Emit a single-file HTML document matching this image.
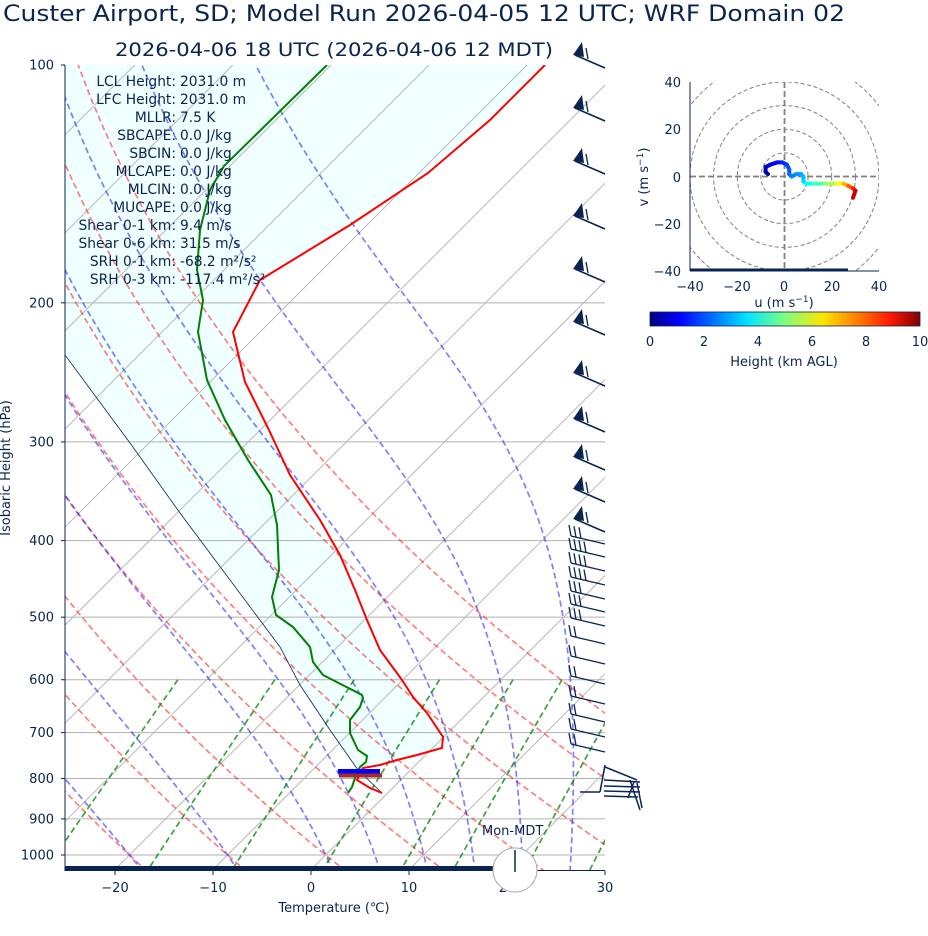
<!DOCTYPE html>
<html><head><meta charset="utf-8">
<style>
html,body{margin:0;padding:0;background:#fff;}
svg{display:block;font-family:"DejaVu Sans","Liberation Sans",sans-serif;}
</style></head>
<body>
<svg id="s" width="928" height="936" viewBox="0 0 928 936" xmlns="http://www.w3.org/2000/svg">
<defs>
<clipPath id="cp"><rect x="65" y="65" width="540" height="805"/></clipPath>
<clipPath id="hc"><rect x="690" y="82" width="189" height="189"/></clipPath>
<linearGradient id="jet" x1="0" x2="1" y1="0" y2="0">
<stop offset="0" stop-color="#00007f"/><stop offset="0.11" stop-color="#0000ff"/>
<stop offset="0.36" stop-color="#00e5ff"/><stop offset="0.5" stop-color="#7fff7f"/>
<stop offset="0.64" stop-color="#ffe500"/><stop offset="0.89" stop-color="#ff1a00"/>
<stop offset="1" stop-color="#7f0000"/></linearGradient>
</defs>
<text x="3" y="21" font-size="22.5" fill="#0a2450" textLength="842" lengthAdjust="spacingAndGlyphs">Custer Airport, SD; Model Run 2026-04-05 12 UTC; WRF Domain 02</text>
<text x="115" y="56" font-size="19" fill="#0a2450" textLength="438" lengthAdjust="spacingAndGlyphs">2026-04-06 18 UTC  (2026-04-06 12 MDT)</text>
<g clip-path="url(#cp)">
<polygon fill="#f0ffff" points="545,65 490,120 428,173 350,225 260,280 233,332 245,382 268,428 290,475 320,520 340,555 355,590 367,620 380,650 402,680 413,697 427,713 443,737 442,748 417,755 397,760 380,765 358,770 330,730 300,685 280,647 230,580 180,513 130,443 65,355 65,65"/>
<g id="grid"></g>
<polyline fill="none" stroke="#0a2450" stroke-width="0.8" points="65,355 130,443 180,513 230,580 280,647 300,685 330,730 358,770 382,793"/>
<polyline fill="none" stroke="#ff0000" stroke-width="2" points="545,65 490,120 428,173 350,225 260,280 233,332 245,382 268,428 290,475 320,520 340,555 355,590 367,620 380,650 402,680 413,697 427,713 443,737 442,748 417,755 397,760 380,765 363,768 357,780 370,788 382,793"/>
<polyline fill="none" stroke="#008000" stroke-width="2" points="327,65 224,166 210,190 200,230 197,270 203,300 198,332 207,380 225,420 248,460 271,495 277,525 279,570 272,597 276,615 293,627 310,647 313,662 323,675 362,695 363,698 360,707 350,720 350,733 358,750 367,756 366,762 360,767 355,778 352,787 348,793"/>
<rect x="338" y="769" width="42" height="4.5" fill="#0000ff"/>
<rect x="339" y="773.5" width="43" height="4" fill="#a52a2a"/>
</g>
<rect x="65" y="866" width="428" height="5" fill="#0a2450"/>
<line x1="65" y1="65" x2="65" y2="871" stroke="#0a2450" stroke-width="1"/>
<line x1="65" y1="870.5" x2="605" y2="870.5" stroke="#0a2450" stroke-width="1"/>
<g font-size="13" fill="#0a2450" text-anchor="end" id="ylab"></g>
<text transform="translate(10,468) rotate(-90)" font-size="13" fill="#0a2450" text-anchor="middle">Isobaric Height (hPa)</text>
<g font-size="13" fill="#0a2450" text-anchor="middle">
<text x="115" y="892">−20</text><text x="213" y="892">−10</text><text x="311" y="892">0</text><text x="409" y="892">10</text><text x="507" y="892">20</text><text x="605" y="892">30</text>
<text x="334" y="912">Temperature (℃)</text></g>
<g stroke="#0a2450"><line x1="115" y1="871" x2="115" y2="875"/><line x1="213" y1="871" x2="213" y2="875"/><line x1="311" y1="871" x2="311" y2="875"/><line x1="409" y1="871" x2="409" y2="875"/><line x1="605" y1="871" x2="605" y2="875"/></g>
<circle cx="515" cy="870" r="22" fill="#fff" stroke="#aaa" stroke-width="1"/>
<line x1="515" y1="850" x2="515" y2="872" stroke="#0a2450" stroke-width="1.5"/>
<text x="482" y="835" font-size="13" fill="#0a2450">Mon-MDT</text>
<g font-size="13.8" fill="#0a2450">
<g text-anchor="end">
<text x="176" y="86">LCL Height:</text><text x="176" y="104">LFC Height:</text><text x="176" y="122">MLLR:</text><text x="176" y="140">SBCAPE:</text><text x="176" y="158">SBCIN:</text><text x="176" y="176">MLCAPE:</text><text x="176" y="194">MLCIN:</text><text x="176" y="212">MUCAPE:</text><text x="176" y="230">Shear 0-1 km:</text><text x="176" y="248">Shear 0-6 km:</text><text x="176" y="266">SRH 0-1 km:</text><text x="176" y="284">SRH 0-3 km:</text></g>
<g>
<text x="180" y="86">2031.0 m</text><text x="180" y="104">2031.0 m</text><text x="180" y="122">7.5 K</text><text x="180" y="140">0.0 J/kg</text><text x="180" y="158">0.0 J/kg</text><text x="180" y="176">0.0 J/kg</text><text x="180" y="194">0.0 J/kg</text><text x="180" y="212">0.0 J/kg</text><text x="180" y="230">9.4 m/s</text><text x="180" y="248">31.5 m/s</text><text x="180" y="266">-68.2 m²/s²</text><text x="180" y="284">-117.4 m²/s²</text></g></g>
<g id="barbs" stroke="#0a2450" stroke-width="1.6" fill="#0a2450"></g>
<g clip-path="url(#hc)" fill="none" stroke="#808080" stroke-dasharray="4,2.5" stroke-width="1">
<circle cx="784.5" cy="176.5" r="23.6"/><circle cx="784.5" cy="176.5" r="47.2"/><circle cx="784.5" cy="176.5" r="70.9"/><circle cx="784.5" cy="176.5" r="94.5"/><circle cx="784.5" cy="176.5" r="118"/><circle cx="784.5" cy="176.5" r="141.7"/>
<line x1="690" y1="176.5" x2="879" y2="176.5" stroke-width="1.8" stroke-dasharray="6,3"/>
<line x1="784.5" y1="82" x2="784.5" y2="271" stroke-width="1.8" stroke-dasharray="6,3"/>
</g>
<g id="hodo" fill="none" stroke-width="4" stroke-linecap="round"></g>
<line x1="690" y1="270" x2="848" y2="270" stroke="#0a2450" stroke-width="3"/>
<line x1="690" y1="82" x2="690" y2="271" stroke="#0a2450"/>
<line x1="690" y1="271" x2="879" y2="271" stroke="#0a2450"/>
<g font-size="13" fill="#0a2450" text-anchor="middle">
<text x="690" y="291">−40</text><text x="737" y="291">−20</text><text x="784" y="291">0</text><text x="832" y="291">20</text><text x="879" y="291">40</text>
<text x="784" y="307">u (m s<tspan dy="-5" font-size="9">−1</tspan><tspan dy="5">)</tspan></text></g>
<g font-size="13" fill="#0a2450" text-anchor="end">
<text x="681" y="87">40</text><text x="681" y="134">20</text><text x="681" y="182">0</text><text x="681" y="229">−20</text><text x="681" y="276">−40</text></g>
<text transform="translate(648,177) rotate(-90)" font-size="13" fill="#0a2450" text-anchor="middle">v (m s<tspan dy="-5" font-size="9">−1</tspan><tspan dy="5">)</tspan></text>
<rect x="650" y="312" width="270" height="14" fill="url(#jet)" stroke="#0a2450" stroke-width="0.8"/>
<g font-size="13" fill="#0a2450" text-anchor="middle">
<text x="650" y="346">0</text><text x="704" y="346">2</text><text x="758" y="346">4</text><text x="812" y="346">6</text><text x="866" y="346">8</text><text x="920" y="346">10</text>
<text x="784" y="366">Height (km AGL)</text></g>
</svg>
<script>
(function(){
var NS="http://www.w3.org/2000/svg";
function el(t,a,p){var e=document.createElementNS(NS,t);for(var k in a)e.setAttribute(k,a[k]);p.appendChild(e);return e;}
function Y(p){return 65+790*Math.log10(p/100);}
function X(T,p){return 310.7+9.81*T+(870-Y(p));}
var g=document.getElementById('grid');
for(var p=200;p<=1000;p+=100)el('line',{x1:65,x2:605,y1:Y(p),y2:Y(p),stroke:'#b0b0b0','stroke-width':1},g);
for(var T=-150;T<=40;T+=10){el('line',{x1:X(T,1045),y1:870,x2:X(T,100),y2:65,stroke:'#b8b8b8','stroke-width':1},g);}
function pl(pts,st){el('polyline',{points:pts.map(function(q){return q[0].toFixed(1)+','+q[1].toFixed(1)}).join(' '),fill:'none',stroke:st,'stroke-width':1.7,'stroke-dasharray':'6,3.5'},g);}
for(var t0=-60;t0<=50;t0+=10){var th=t0+273.15,pts=[];for(var p=1050;p>=100;p-=10){var T=th*Math.pow(p/1000,0.2857)-273.15;pts.push([X(T,p),Y(p)]);}pl(pts,'rgba(255,0,0,0.5)');}
var Rd=287.04,Cp=1005.7,Lv=2.501e6,eps=0.622;
function es(Tc){return 6.112*Math.exp(17.67*Tc/(Tc+243.5));}
function dTdp(T,p){var Tc=T-273.15,e=es(Tc),rs=eps*e/(p-e);return (Rd*T+Lv*rs)/(Cp+Lv*Lv*rs*eps/(Rd*T*T))/p;}
[-50,-40,-30,-20,-10,0,5,10,15,20,25].forEach(function(t0){
 var up=[],T=t0+273.15,p=1000;up.push([X(t0,p),Y(p)]);
 while(p>100){var dp=-5;var k1=dTdp(T,p),k2=dTdp(T+k1*dp/2,p+dp/2);T+=k2*dp;p+=dp;up.push([X(T-273.15,p),Y(p)]);}
 var dn=[];T=t0+273.15;p=1000;
 while(p<1050){var dp=5;var k1=dTdp(T,p),k2=dTdp(T+k1*dp/2,p+dp/2);T+=k2*dp;p+=dp;dn.push([X(T-273.15,p),Y(p)]);}
 pl(dn.reverse().concat(up),'rgba(0,0,255,0.5)');});
[0.0004,0.001,0.002,0.004,0.007,0.01,0.016,0.024,0.032].forEach(function(w){var pts=[];for(var p=600;p<=1050;p+=10){var e=p*w/(eps+w),l=Math.log(e/6.112),Td=243.5*l/(17.67-l);pts.push([X(Td,p),Y(p)]);}pl(pts,'rgba(0,128,0,0.75)');});
var yl=document.getElementById('ylab');
[100,200,300,400,500,600,700,800,900,1000].forEach(function(p){var t=el('text',{x:54,y:Y(p)+4.5},yl);t.textContent=p;el('line',{x1:61,x2:65,y1:Y(p),y2:Y(p),stroke:'#0a2450'},yl);});
var b=document.getElementById('barbs');
[44,97,150,205,258,311,362,408,446,478,508].forEach(function(y){
 el('line',{x1:575,y1:y+11,x2:605,y2:y+24},b);
 el('polygon',{points:(573)+','+(y+11)+' '+(582)+','+(y-2)+' '+(584)+','+(y+13),stroke:'none'},b);
 el('line',{x1:588,y1:y+15,x2:586,y2:y+4,'stroke-width':1.3},b);});
[[540,3],[553,4],[567,4],[581,4],[595,3],[608,3],[622,3],[640,2],[660,2],[680,2],[700,2],[718,2],[733,2],[748,2]].forEach(function(a){
 var y=a[0];el('line',{x1:571,y1:y-4,x2:605,y2:y+4,'stroke-width':1.4},b);
 for(var i=0;i<a[1];i++)el('line',{x1:571+i*5,y1:y-4+i*1.2,x2:569+i*5,y2:y-15+i*1.2,'stroke-width':1.3},b);});
[[580,792,600,792],[600,792,605,765],[605,767,637,780],[604,780,640,782],[604,786,640,787],[604,791,640,792],[604,796,638,797],[630,780,640,810],[634,782,628,798],[637,783,642,808]].forEach(function(l){el('line',{x1:l[0],y1:l[1],x2:l[2],y2:l[3],'stroke-width':1.5},b);});
var h=document.getElementById('hodo');
var pts=[[-7,1,0],[-8,2,.3],[-8,4,.6],[-6,5,.9],[-3,6,1.2],[-1,6,1.5],[1,5,1.8],[2,3,2.0],[2,1,2.2],[3,0,2.4],[5,1,2.6],[7,1,2.8],[8,0,3.0],[8,-2,3.2],[9,-3,3.5],[12,-3,4.0],[17,-3,4.8],[22,-3,5.8],[25,-3,6.6],[27,-4,7.4],[29,-5,8.2],[30,-6,8.8],[29,-9,9.6]];
function jet(v){v/=10;function c(x){return Math.max(0,Math.min(1,1.5-Math.abs(4*v-x)));}return 'rgb('+Math.round(255*c(3))+','+Math.round(255*c(2))+','+Math.round(255*c(1))+')';}
for(var i=0;i<pts.length-1;i++){var a=pts[i],c=pts[i+1];el('line',{x1:784.5+a[0]*2.363,y1:176.5-a[1]*2.363,x2:784.5+c[0]*2.363,y2:176.5-c[1]*2.363,stroke:jet((a[2]+c[2])/2)},h);}
})();
</script>
</body></html>
